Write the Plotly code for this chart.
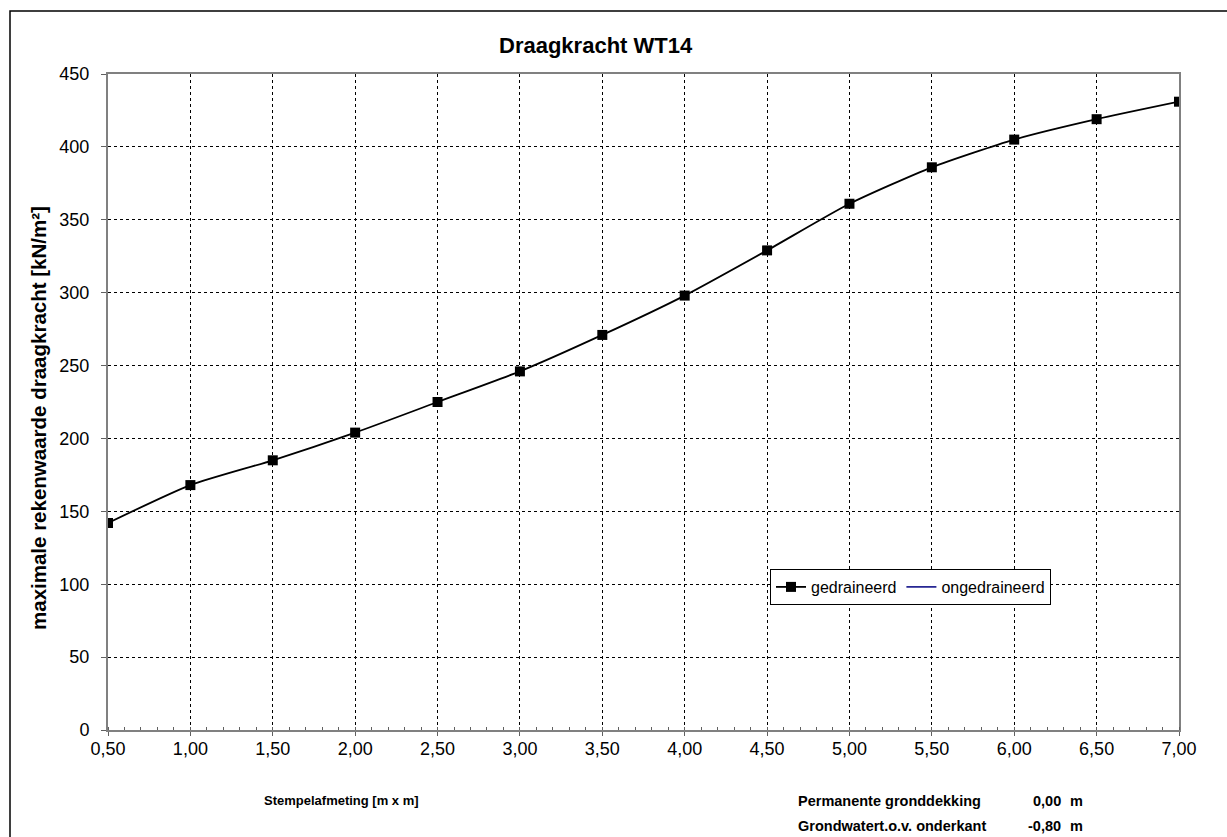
import plotly.graph_objects as go

x_size = [0.5, 1.0, 1.5, 2.0, 2.5, 3.0, 3.5, 4.0, 4.5, 5.0, 5.5, 6.0, 6.5, 7.0]
gedraineerd = [142, 168, 185, 204, 225, 246, 271, 298, 329, 361, 386, 405, 419, 431]
ongedraineerd_x = [None]
ongedraineerd_y = [None]
y_ticks = [0, 50, 100, 150, 200, 250, 300, 350, 400, 450]

fig = go.Figure()
fig.add_trace(go.Scatter(
    x=x_size, y=gedraineerd, name="gedraineerd", mode="lines+markers",
    line=dict(color="black", width=1.8, shape="spline", smoothing=0.6),
    marker=dict(symbol="square", size=10, color="black"),
))
fig.add_trace(go.Scatter(
    x=ongedraineerd_x, y=ongedraineerd_y, name="ongedraineerd", mode="lines",
    line=dict(color="#000080", width=1.5),
))

PL, PR, PT, PB = 108, 1179, 74, 730
W, H = 1227, 837

def px(xp):
    return (xp - PL) / (PR - PL)

def py(yp):
    return (PB - yp) / (PB - PT)

FONT = "Arial, Liberation Sans, sans-serif"

fig.update_layout(
    width=W, height=H,
    margin=dict(l=PL, r=W - PR, t=PT, b=H - PB),
    paper_bgcolor="white", plot_bgcolor="white",
    separators=",.",
    font=dict(family=FONT, size=18, color="black"),
    showlegend=True,
    legend=dict(orientation="h", x=px(770), y=py(569), xanchor="left", yanchor="top",
                bordercolor="black", borderwidth=1, bgcolor="white",
                font=dict(size=16), tracegroupgap=0),
    xaxis=dict(range=[0.5, 7.0], tickvals=x_size, tickformat=".2f",
               showgrid=True, gridcolor="black", griddash="dot", gridwidth=1,
               showline=True, linecolor="#808080", linewidth=2, mirror=True,
               ticks="outside", ticklen=4, tickcolor="#606060",
               ticklabelstandoff=-3,
               minor=dict(dtick=0.1, ticks="inside", ticklen=3, tickcolor="#606060",
                          showgrid=False),
               zeroline=False, tickfont=dict(size=18)),
    yaxis=dict(range=[0, 450], tickvals=y_ticks,
               showgrid=True, gridcolor="black", griddash="dot", gridwidth=1,
               showline=True, linecolor="#808080", linewidth=2, mirror=True,
               ticks="outside", ticklen=5, tickcolor="#606060",
               ticklabelstandoff=8,
               zeroline=False, tickfont=dict(size=18)),
)

fig.add_shape(type="rect", xref="paper", yref="paper",
              x0=px(10), x1=px(1240), y0=py(850), y1=py(11),
              line=dict(color="black", width=1.5), layer="above")

# title
fig.add_annotation(text="<b>Draagkracht WT14</b>", xref="paper", yref="paper",
                   x=px(596), y=py(45), xanchor="center", yanchor="middle",
                   showarrow=False, font=dict(size=22))
# y-axis title
fig.add_annotation(text="<b>maximale rekenwaarde draagkracht [kN/m²]</b>",
                   xref="paper", yref="paper", x=px(38), y=py(418),
                   xanchor="center", yanchor="middle", textangle=-90,
                   showarrow=False, font=dict(size=20.5))

ann = [
    ("<b>Stempelafmeting [m x m]</b>", 341, 800, "center", 13),
    ("<b>Permanente gronddekking</b>", 796, 801, "left", 14.5),
    ("<b>0,00</b>", 1063, 801, "right", 14.5),
    ("<b>m</b>", 1068, 801, "left", 14.5),
    ("<b>Grondwatert.o.v. onderkant</b>", 796, 826, "left", 14.5),
    ("<b>-0,80</b>", 1063, 826, "right", 14.5),
    ("<b>m</b>", 1068, 826, "left", 14.5),
]
for text, ax_, ay_, anchor, fs in ann:
    fig.add_annotation(text=text, xref="paper", yref="paper", x=px(ax_), y=py(ay_),
                       xanchor=anchor, yanchor="middle", showarrow=False,
                       font=dict(size=fs, color="black"))

fig.write_html("out.html", config={"displayModeBar": False},
               post_script="document.body.style.margin='0';")
